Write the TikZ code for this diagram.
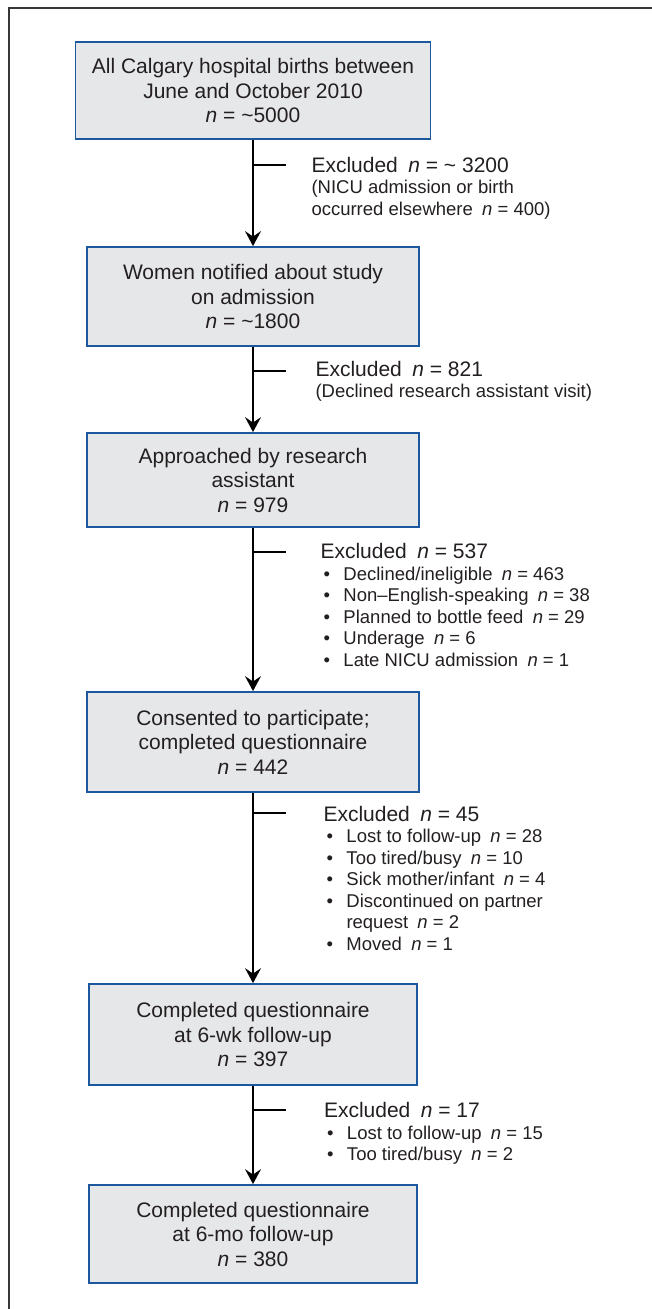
\documentclass[tikz,border=0pt]{standalone}
\usepackage{fontspec}
\setmainfont{Liberation Sans}
\usetikzlibrary{arrows.meta}
\definecolor{boxfill}{RGB}{230,231,233}
\definecolor{boxline}{RGB}{28,88,158}
\definecolor{ink}{RGB}{35,31,32}
\definecolor{framecol}{RGB}{55,55,55}
\newcommand{\gn}{\hspace*{0.5em}\textit{n}}
\newcommand{\bul}[1]{\hspace*{3pt}\makebox[20pt][l]{•}#1}
\newcommand{\cont}[1]{\hspace*{23pt}#1}
\newcommand{\exhead}[1]{{\fontsize{21}{21.5}\selectfont #1}}
\begin{document}
\begin{tikzpicture}[x=1pt,y=-1pt,
  flowbox/.style={draw=boxline, fill=boxfill, line width=1.8pt, align=center,
    text=ink, font=\fontsize{21}{24.5}\selectfont, inner sep=0pt},
  exnote/.style={anchor=base west, align=left, inner sep=0pt, text=ink,
    font=\fontsize{18.5}{21.5}\selectfont},
  flowarrow/.style={line width=1.3pt, -{Stealth[length=15pt,width=16pt,inset=5.5pt]}},
  exttick/.style={line width=1.3pt}]
\useasboundingbox (0,0) rectangle (652,1309);
% frame
\draw[framecol, line width=1.4pt] (9,1309) -- (9,8) -- (652,8);
% boxes
\node[flowbox, minimum width=355pt, minimum height=97pt] (b1) at (253,90.5)
  {All Calgary hospital births between\\June and October 2010\\\textit{n} = \textasciitilde5000};
\node[flowbox, minimum width=332.5pt, minimum height=99pt] (b2) at (253,296.5)
  {Women notified about study\\on admission\\\textit{n} = \textasciitilde1800};
\node[flowbox, minimum width=332pt, minimum height=94pt] (b3) at (253,480)
  {Approached by research\\assistant\\\textit{n} = 979};
\node[flowbox, minimum width=332pt, minimum height=100pt] (b4) at (253,742)
  {Consented to participate;\\completed questionnaire\\\textit{n} = 442};
\node[flowbox, minimum width=328pt, minimum height=101pt] (b5) at (253,1034.5)
  {Completed questionnaire\\at 6-wk follow-up\\\textit{n} = 397};
\node[flowbox, minimum width=328pt, minimum height=98pt] (b6) at (253,1234)
  {Completed questionnaire\\at 6-mo follow-up\\\textit{n} = 380};
% arrows
\draw[flowarrow] (b1.south) -- (b2.north);
\draw[flowarrow] (b2.south) -- (b3.north);
\draw[flowarrow] (b3.south) -- (b4.north);
\draw[flowarrow] (b4.south) -- (b5.north);
\draw[flowarrow] (b5.south) -- (b6.north);
% ticks
\coordinate (t1a) at (253,165);  \coordinate (t1b) at (286,165);
\coordinate (t2a) at (253,371);  \coordinate (t2b) at (286,371);
\coordinate (t3a) at (253,552);  \coordinate (t3b) at (286,552);
\coordinate (t4a) at (253,813);  \coordinate (t4b) at (286,813);
\coordinate (t5a) at (253,1110); \coordinate (t5b) at (286,1110);
\draw[exttick] (t1a) -- (t1b);
\draw[exttick] (t2a) -- (t2b);
\draw[exttick] (t3a) -- (t3b);
\draw[exttick] (t4a) -- (t4b);
\draw[exttick] (t5a) -- (t5b);
% exclusion notes (base anchor = baseline of last line)
\node[exnote] (e1) at (311.3,215)
  {\exhead{Excluded\gn{} = \textasciitilde{} 3200}\\(NICU admission or birth\\occurred elsewhere\gn{} = 400)};
\node[exnote] (e2) at (315.3,397.5)
  {\exhead{Excluded\gn{} = 821}\\(Declined research assistant visit)};
\node[exnote] (e3) at (320.3,666)
  {\exhead{Excluded\gn{} = 537}\\
   \bul{Declined/ineligible\gn{} = 463}\\
   \bul{Non–English-speaking\gn{} = 38}\\
   \bul{Planned to bottle feed\gn{} = 29}\\
   \bul{Underage\gn{} = 6}\\
   \bul{Late NICU admission\gn{} = 1}};
\node[exnote] (e4) at (323.3,950)
  {\exhead{Excluded\gn{} = 45}\\
   \bul{Lost to follow-up\gn{} = 28}\\
   \bul{Too tired/busy\gn{} = 10}\\
   \bul{Sick mother/infant\gn{} = 4}\\
   \bul{Discontinued on partner}\\
   \cont{request\gn{} = 2}\\
   \bul{Moved\gn{} = 1}};
\node[exnote] (e5) at (323.8,1160.5)
  {\exhead{Excluded\gn{} = 17}\\
   \bul{Lost to follow-up\gn{} = 15}\\
   \bul{Too tired/busy\gn{} = 2}};
\end{tikzpicture}
\end{document}
